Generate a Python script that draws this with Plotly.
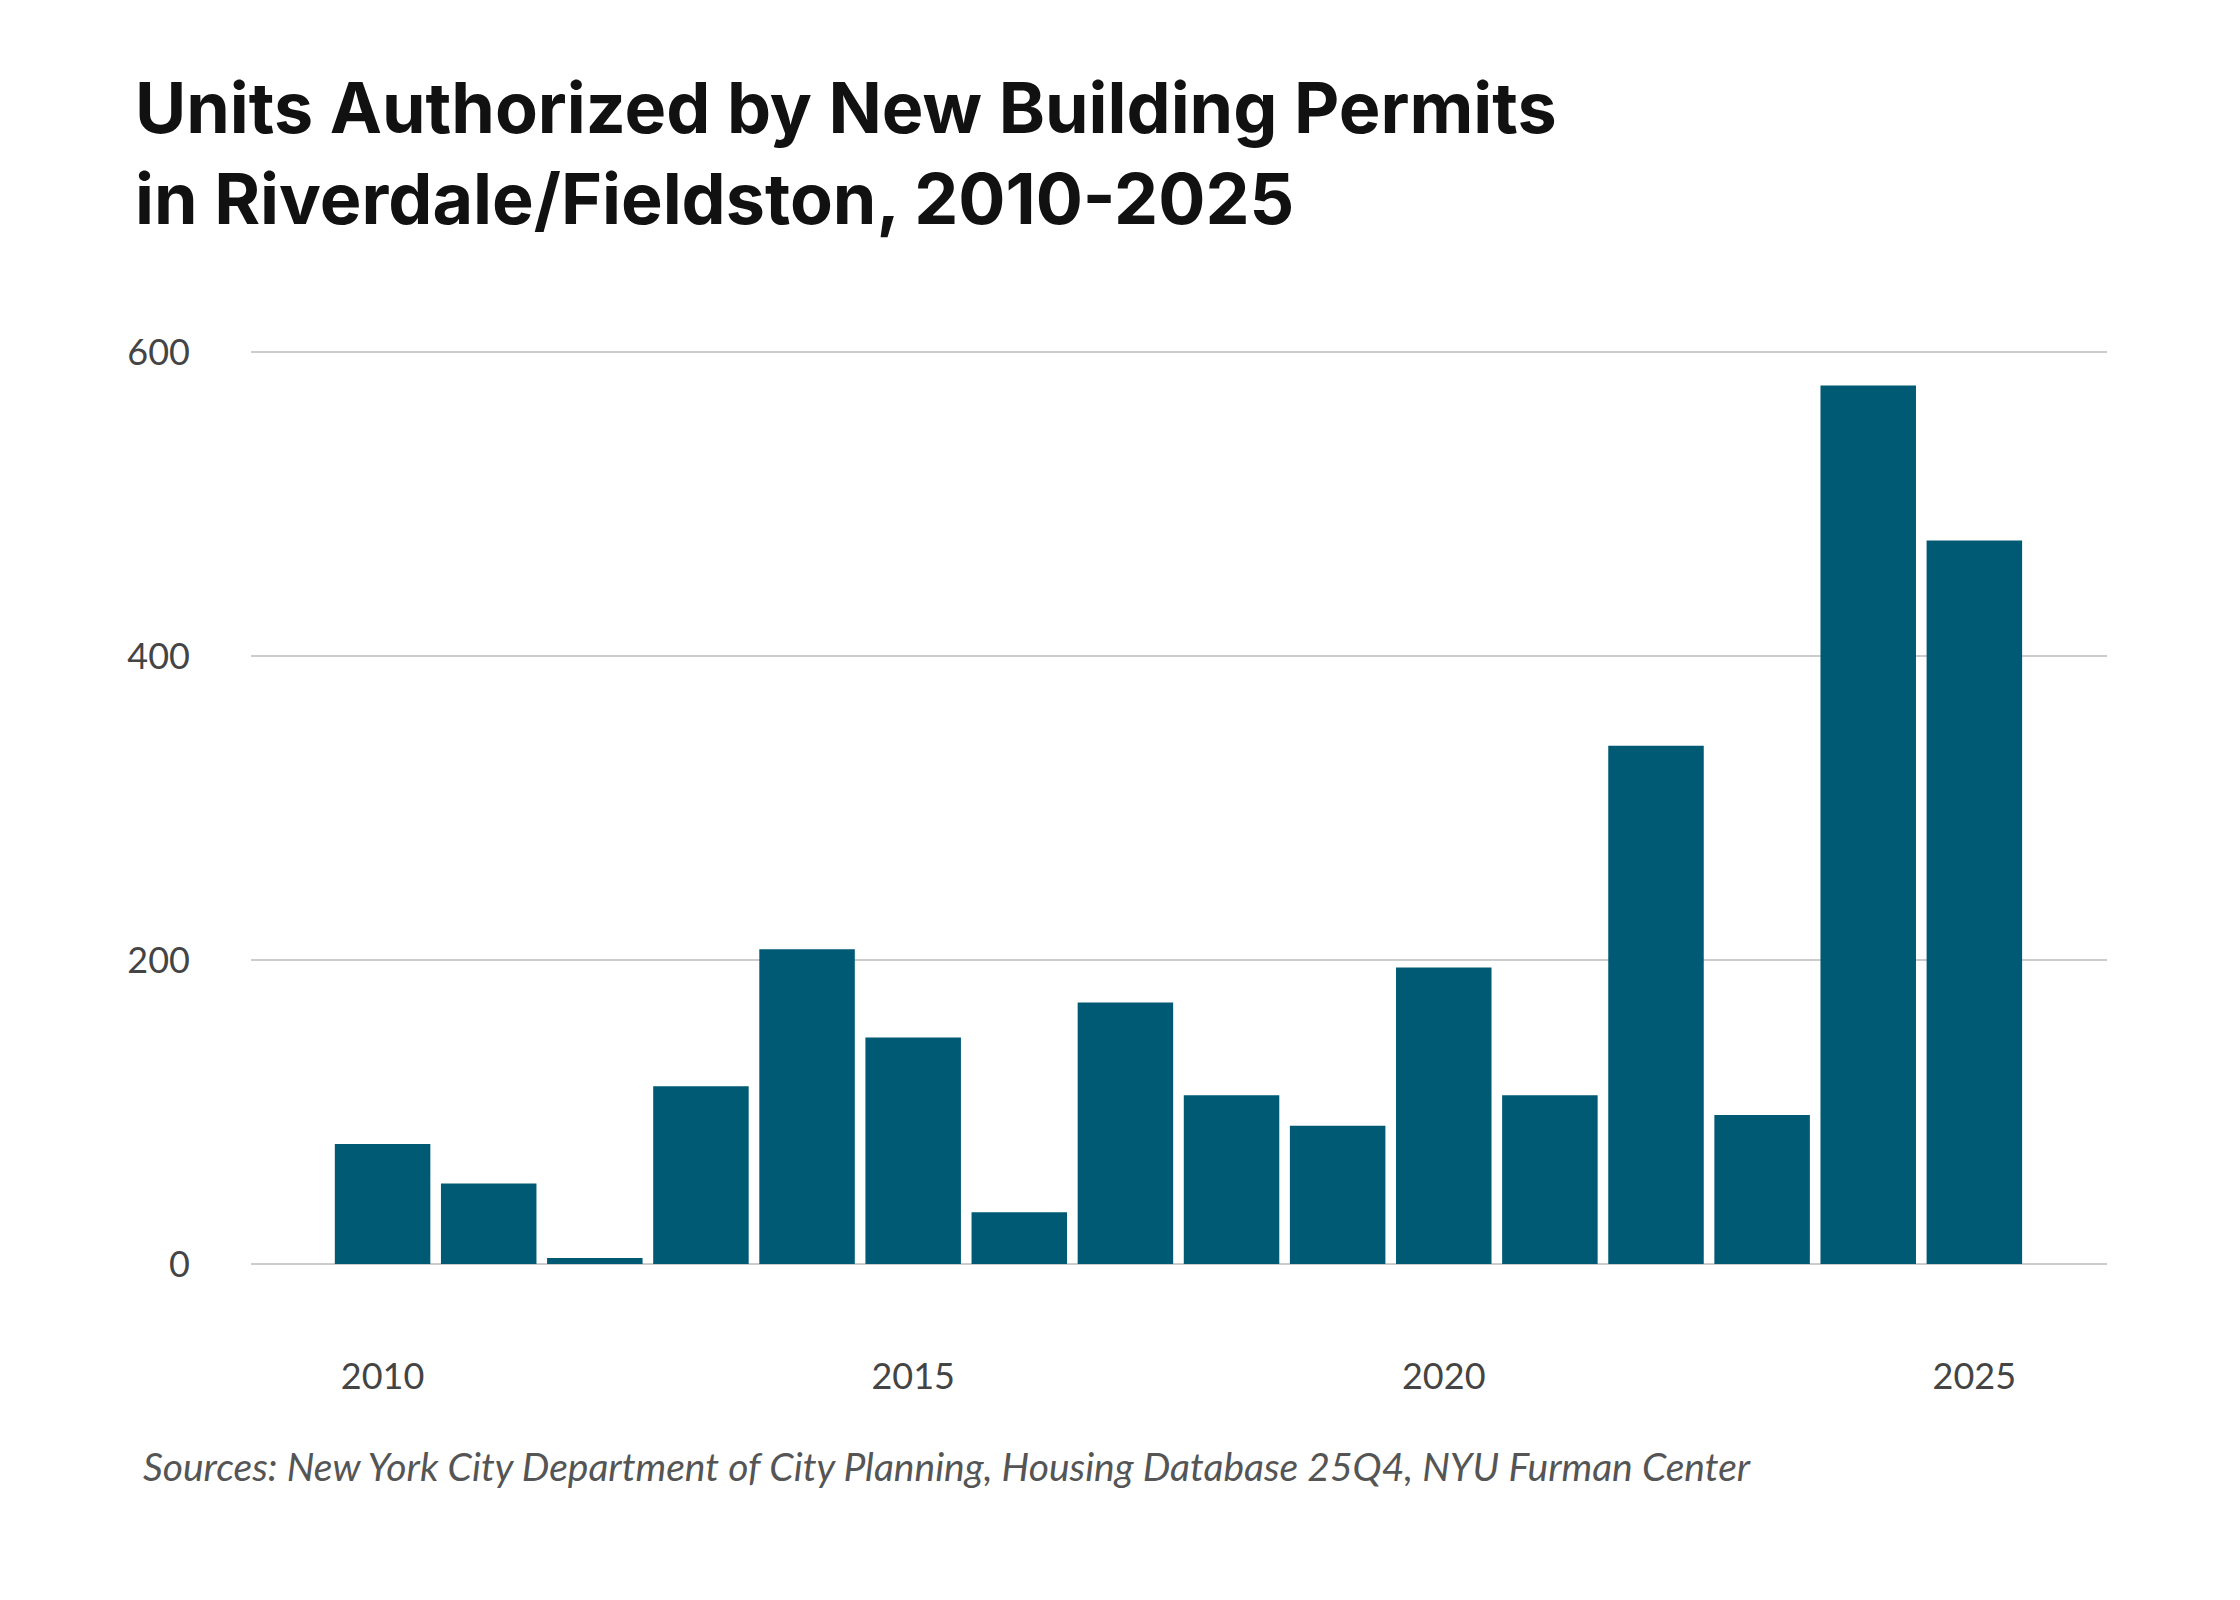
import plotly.graph_objects as go

years = list(range(2010, 2026))
units = [79, 53, 4, 117, 207, 149, 34, 172, 111, 91, 195, 111, 341, 98, 578, 476]
y_ticks = [0, 200, 400, 600]
x_ticks = [2010, 2015, 2020, 2025]

W, H = 2240, 1600
L, R, T, B = 243, 141, 341, 341

fig = go.Figure(go.Bar(x=years, y=units, marker_color="#015a73", marker_line_width=0))

fig.update_layout(
    width=W, height=H,
    plot_bgcolor="white", paper_bgcolor="white",
    margin=dict(l=L, r=R, t=T, b=B),
    bargap=0.1,
    showlegend=False,
    font=dict(family="Lato", color="#444"),
    title=dict(
        text="<b>Units Authorized by New Building Permits<br>in Riverdale/Fieldston, 2010-2025</b>",
        x=127 / W, xanchor="left", y=1 - 125 / H, yanchor="top",
        font=dict(family="Inter", size=70, color="#111"),
    ),
    annotations=[dict(
        text="<i>Sources: New York City Department of City Planning, Housing Database 25Q4, NYU Furman Center</i>",
        xref="paper", yref="paper", x=-(L - 133) / (W - L - R), xanchor="left",
        y=-(1458 - (H - B)) / (H - T - B), yanchor="middle",
        showarrow=False, font=dict(family="Lato", size=39, color="#555"),
    )],
)
fig.update_xaxes(
    range=[2008.76, 2026.25], tickvals=x_ticks, ticktext=[str(t) for t in x_ticks],
    showgrid=False, zeroline=False, showline=False, ticks="",
    tickfont=dict(size=36, color="#444"), ticklabelstandoff=85,
)
fig.update_yaxes(
    range=[-2, 602], tickvals=y_ticks, showgrid=True, gridcolor="#cccccc", gridwidth=2,
    zeroline=False, ticks="", tickfont=dict(size=36, color="#444"),
    ticklabelstandoff=60,
)
fig.write_html("out.html")
